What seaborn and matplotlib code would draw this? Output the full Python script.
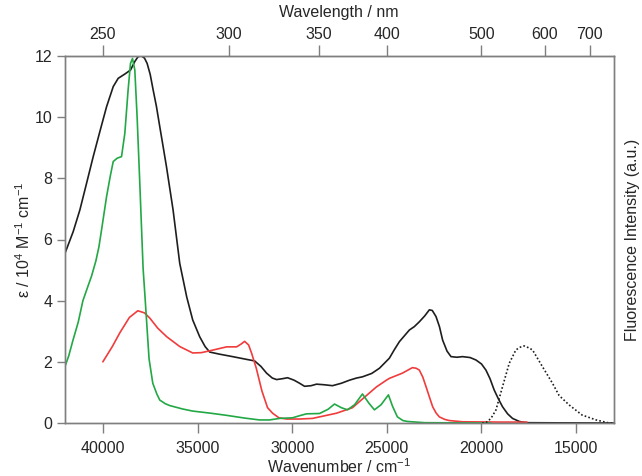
import numpy as np
import pandas as pd
import matplotlib
matplotlib.use("Agg")
import matplotlib.pyplot as plt
import seaborn as sns

# ---- data ----
black_wn = [42000, 41566, 41213, 40860, 40510, 40158, 39805, 39452, 39190, 38840, 38540,
            38312, 38137, 37960, 37800, 37663, 37500, 37347, 37170, 36994, 36820, 36640, 36460,
            36292, 35939, 35570, 35254, 34885, 34600, 34357, 33830, 33144, 32406, 31984, 31650,
            31351, 31050, 30823, 30500, 30243, 29900, 29610, 29346, 29000, 28714, 28300, 27870,
            27400, 26973, 26600, 26287, 25800, 25390, 24864, 24600, 24336, 23810, 23550, 23282,
            23000, 22754, 22600, 22402, 22220, 22052, 21820, 21610, 21300, 21000, 20600, 20292,
            20000, 19765, 19550, 19330, 19100, 18887, 18620, 18360, 18000, 17650, 16000, 13000]
black_eps = [5.55, 6.26, 6.97, 7.84, 8.71, 9.53, 10.34, 11.0, 11.27, 11.41, 11.54,
             11.82, 11.98, 12.0, 11.93, 11.76, 11.4, 10.9, 10.35, 9.69, 9.05, 8.38, 7.65,
             6.97, 5.22, 4.12, 3.37, 2.82, 2.5, 2.32, 2.25, 2.17, 2.08, 2.03, 1.85,
             1.63, 1.47, 1.42, 1.45, 1.48, 1.4, 1.3, 1.2, 1.22, 1.27, 1.25, 1.22,
             1.3, 1.4, 1.47, 1.51, 1.62, 1.79, 2.12, 2.4, 2.66, 3.04, 3.15, 3.31,
             3.5, 3.7, 3.68, 3.48, 3.15, 2.71, 2.35, 2.17, 2.15, 2.17, 2.14, 2.06,
             1.93, 1.73, 1.45, 1.08, 0.78, 0.53, 0.3, 0.15, 0.05, 0.01, 0.005, 0.0]

red_wn = [40000, 39500, 39103, 38600, 38154, 37800, 37520, 37100, 36625, 35939, 35254, 34800, 34357,
          33460, 32933, 32700, 32511, 32300, 32142, 31900, 31600, 31300, 31034, 30700, 30296, 29610,
          28925, 28556, 27659, 26815, 26446, 25549, 25022, 24864, 24178, 23650, 23450, 23282, 23100,
          22930, 22750, 22578, 22400, 22226, 21950, 21700, 21000, 19000, 17600]
red_eps = [2.0, 2.5, 2.95, 3.45, 3.67, 3.6, 3.43, 3.1, 2.82, 2.5, 2.29, 2.3, 2.36,
           2.49, 2.49, 2.58, 2.67, 2.55, 2.28, 1.8, 1.05, 0.5, 0.32, 0.17, 0.13, 0.13,
           0.15, 0.2, 0.32, 0.5, 0.7, 1.18, 1.4, 1.46, 1.63, 1.81, 1.79, 1.73, 1.5,
           1.19, 0.85, 0.53, 0.33, 0.2, 0.12, 0.08, 0.04, 0.03, 0.03]

green_wn = [42000, 41800, 41582, 41300, 41054, 40800, 40600, 40369, 40211, 40070, 39805, 39600,
            39452, 39240, 39014, 38840, 38665, 38540, 38434, 38312, 38190, 38049, 37875, 37760,
            37560, 37363, 37150, 36994, 36700, 36466, 35800, 35254, 34300, 33460, 32500, 31720,
            31200, 30665, 29980, 29600, 29240, 28556, 28100, 27764, 27400, 27078, 26700, 26287,
            25950, 25655, 25300, 24916, 24700, 24442, 24150, 23915, 23000, 19500]
green_eps = [1.85, 2.2, 2.7, 3.3, 4.0, 4.45, 4.8, 5.3, 5.75, 6.31, 7.4, 8.1,
             8.55, 8.66, 8.71, 9.47, 10.9, 11.76, 11.92, 11.54, 10.0, 7.84, 5.06, 4.0,
             2.1, 1.3, 0.95, 0.75, 0.63, 0.57, 0.46, 0.39, 0.32, 0.25, 0.16, 0.1,
             0.1, 0.15, 0.17, 0.24, 0.3, 0.31, 0.45, 0.62, 0.5, 0.43, 0.6, 0.95,
             0.65, 0.43, 0.6, 0.92, 0.55, 0.2, 0.08, 0.05, 0.01, 0.0]

fl_wn = [19960, 19765, 19500, 19240, 18887, 18535, 18183, 17950, 17744, 17550, 17305, 16778, 16250,
         15900, 15370, 14685, 13946, 13260, 13000]
fl_int = [0.0, 0.01, 0.15, 0.42, 1.19, 1.95, 2.39, 2.48, 2.52, 2.47, 2.39, 1.84, 1.3,
          0.9, 0.59, 0.26, 0.1, 0.0, 0.0]

yticks = [0, 2, 4, 6, 8, 10, 12]
xticks = [40000, 35000, 30000, 25000, 20000, 15000]
top_ticks = [250, 300, 350, 400, 500, 600, 700]

# ---- style ----
sns.set_style("ticks")
plt.rcParams['font.family'] = ['Liberation Sans', 'DejaVu Sans']
plt.rcParams['mathtext.fontset'] = 'custom'
plt.rcParams['mathtext.rm'] = 'Liberation Sans'
plt.rcParams['mathtext.it'] = 'Liberation Sans'
FS = 11.5
GRAY = '#7f7f7f'

fig = plt.figure(figsize=(6.42, 4.76), dpi=100)
AX_H = (423 - 56) / 476
ax = fig.add_axes([65/642, 1-423/476, (614-65)/642, AX_H])

def df(x, y):
    return pd.DataFrame({'wn': x, 'v': y})

lw = 1.2
sns.lineplot(data=df(black_wn, black_eps), x='wn', y='v', ax=ax, color='#1e1e1e', lw=lw, sort=False)
sns.lineplot(data=df(red_wn, red_eps), x='wn', y='v', ax=ax, color='#f03c3c', lw=lw, sort=False)
sns.lineplot(data=df(green_wn, green_eps), x='wn', y='v', ax=ax, color='#22a845', lw=lw, sort=False)

ax.set_xlim(42000, 13000)
ax.set_ylim(0, 12)
ax.set_xticks(xticks)
ax.set_yticks(yticks)
ax.set_xlabel('Wavenumber / cm$^{-1}$', fontsize=FS, labelpad=1)
ax.set_ylabel('ε / 10$^{4}$ M$^{-1}$ cm$^{-1}$', fontsize=FS, labelpad=1)
ax.tick_params(axis='both', direction='out', length=7, width=1, color=GRAY, labelsize=FS)
ax.tick_params(axis='x', pad=6)
ax.tick_params(axis='y', pad=3, length=6)

# right twin axis for fluorescence
ax2 = ax.twinx()
sns.lineplot(data=df(fl_wn, fl_int), x='wn', y='v', ax=ax2, color='#1e1e1e', lw=1.2,
             linestyle=(0, (1, 1.3)), sort=False)
ax2.set_ylim(0, 12)
ax2.set_yticks([])
ax2.set_xlim(42000, 13000)
ax2.set_xlabel('')
ax2.set_ylabel('Fluorescence Intensity (a.u.)', fontsize=FS, labelpad=8)

# top wavelength axis
top = ax.secondary_xaxis('top', functions=(lambda w: 1e7/np.where(w == 0, 1e-9, w),
                                            lambda n: 1e7/np.where(n == 0, 1e-9, n)))
top.set_xticks(top_ticks)
top.set_xticklabels([str(t) for t in top_ticks])
top.tick_params(direction='out', length=8, width=1, color=GRAY, labelsize=FS, pad=2)
fig.text(339/642, 1 - 12/476, 'Wavelength / nm', fontsize=FS, ha='center', va='center')

for a in (ax, ax2):
    for s in a.spines.values():
        s.set_color(GRAY)
        s.set_linewidth(1.0)
        s.set_visible(True)
for s in top.spines.values():
    s.set_color(GRAY)

fig.savefig('out.png', dpi=100)
